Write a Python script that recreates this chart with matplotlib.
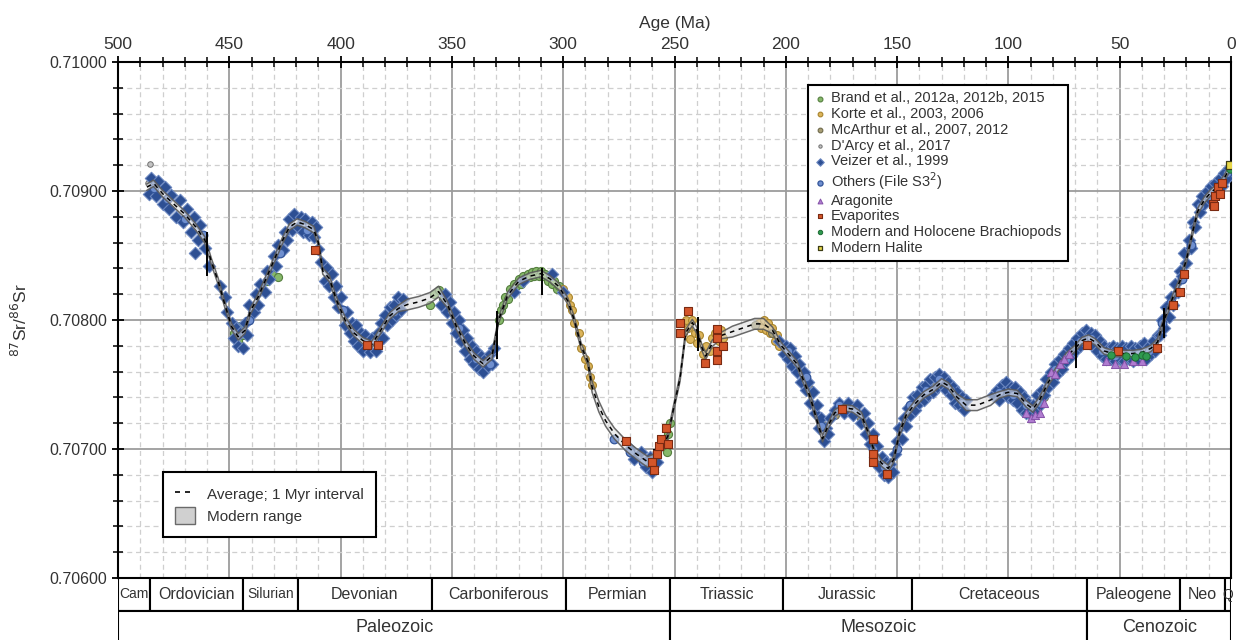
import numpy as np
import matplotlib
matplotlib.use("Agg")
import matplotlib.pyplot as plt
from matplotlib.ticker import MultipleLocator, FormatStrFormatter
from matplotlib.lines import Line2D
from matplotlib.patches import Patch, Rectangle

plt.rcParams['font.family'] = ['Liberation Sans', 'DejaVu Sans']

# LOWESS-style mean curve (age in Ma, 87Sr/86Sr)
curve_age = [487, 484, 480, 475, 470, 465, 461, 458, 455, 452, 449, 446, 443, 440.5, 437, 434, 430,
             426, 423, 419.5, 416, 412, 410, 408, 405, 402, 398, 394, 390, 386, 382, 378, 374, 370,
             365, 360, 356, 352, 348, 344, 340, 336, 332, 329, 325, 320, 315, 310, 306, 302, 298,
             295, 292, 289, 287, 284, 281, 277, 272, 267, 262, 259, 256, 253, 250, 247.5, 245, 242,
             240, 238, 236, 233, 229, 224, 219, 214, 210, 206, 202, 198, 195, 192, 189, 186, 183.5,
             181, 178, 174, 170, 166, 163, 160, 157, 154, 151.5, 149, 146, 142, 138, 134, 130, 127,
             123, 119, 114, 108, 104, 100, 96, 92, 89, 86, 82, 78, 74, 70, 67, 64, 61, 57, 53, 48,
             44, 40, 36, 33, 31, 29, 26, 23, 20, 17, 15, 12, 9, 6, 3, 0.5]
curve_sr = [0.70903, 0.70906, 0.70898, 0.70890, 0.70882, 0.70872, 0.70862, 0.70845, 0.70830,
            0.70812, 0.70795, 0.70787, 0.70792, 0.70807, 0.70818, 0.70830, 0.70846, 0.70862,
            0.70872, 0.70876, 0.70874, 0.70870, 0.70860, 0.70838, 0.70832, 0.70816, 0.70800,
            0.70790, 0.70784, 0.70781, 0.70792, 0.70803, 0.70809, 0.70812, 0.70814, 0.70817,
            0.70822, 0.70812, 0.70795, 0.70782, 0.70772, 0.70766, 0.70772, 0.70800, 0.70819,
            0.70830, 0.70834, 0.70836, 0.70832, 0.70826, 0.70815, 0.70800, 0.70780, 0.70768,
            0.70748, 0.70733, 0.70722, 0.70712, 0.70703, 0.70696, 0.70690, 0.70692, 0.70700,
            0.70710, 0.70735, 0.70755, 0.70790, 0.70798, 0.70792, 0.70780, 0.70772, 0.70782,
            0.70788, 0.70791, 0.70794, 0.70797, 0.70797, 0.70792, 0.70780, 0.70772, 0.70766,
            0.70753, 0.70740, 0.70722, 0.70708, 0.70718, 0.70728, 0.70732, 0.70731, 0.70726,
            0.70713, 0.70697, 0.70689, 0.70685, 0.70692, 0.70712, 0.70726, 0.70735, 0.70742,
            0.70746, 0.70752, 0.70749, 0.70740, 0.70734, 0.70734, 0.70738, 0.70742, 0.70744,
            0.70743, 0.70735, 0.70731, 0.70738, 0.70752, 0.70762, 0.70772, 0.70778, 0.70784,
            0.70786, 0.70783, 0.70776, 0.70774, 0.70774, 0.70774, 0.70775, 0.70778, 0.70783,
            0.70795, 0.70805, 0.70818, 0.70830, 0.70847, 0.70870, 0.70884, 0.70893, 0.70899,
            0.70903, 0.70910, 0.70918]
band_half = 0.000025
gap_half = 0.000042
gap_spans = [(373, 356), (287, 258), (228, 207), (121, 105)]

# segment breaks marked with solid vertical strokes
break_age = [460, 329.7, 309.5, 259, 239.5, 69.6, 30]
break_lo = [0.70834, 0.70770, 0.70819, 0.70680, 0.70776, 0.70763, 0.70786]
break_hi = [0.70868, 0.70807, 0.70840, 0.70700, 0.70802, 0.70784, 0.70809]

brand_age = [448, 446, 445, 444, 433, 431, 428, 360, 358, 356, 354, 329, 328, 327, 326, 325, 324,
             323, 322, 321, 320, 319, 318, 317, 316, 315, 314, 313, 312, 311, 310, 309, 308, 307,
             306, 305, 304, 303, 302, 254, 253, 252, 253.5]
brand_sr = [0.70790, 0.70784, 0.70795, 0.70788, 0.70830, 0.70836, 0.70833, 0.70812, 0.70820,
            0.70823, 0.70816, 0.70800, 0.70808, 0.70812, 0.70818, 0.70816, 0.70824, 0.70822,
            0.70828, 0.70826, 0.70832, 0.70828, 0.70834, 0.70832, 0.70836, 0.70833, 0.70837,
            0.70834, 0.70838, 0.70834, 0.70838, 0.70834, 0.70836, 0.70830, 0.70834, 0.70828,
            0.70830, 0.70824, 0.70826, 0.70705, 0.70712, 0.70720, 0.70698]

korte_age = [300, 298, 297, 296, 295, 293, 292, 290, 289, 288, 287, 246, 245, 244, 243, 242, 241,
             240, 239, 237, 236, 234, 233, 232, 230, 229, 228, 212, 211, 210, 209, 208, 207, 206,
             205, 204, 203]
korte_sr = [0.70824, 0.70818, 0.70812, 0.70808, 0.70798, 0.70790, 0.70778, 0.70770, 0.70764,
            0.70756, 0.70750, 0.70790, 0.70800, 0.70794, 0.70785, 0.70800, 0.70790, 0.70782,
            0.70788, 0.70774, 0.70780, 0.70776, 0.70786, 0.70790, 0.70784, 0.70792, 0.70786,
            0.70798, 0.70794, 0.70800, 0.70792, 0.70798, 0.70790, 0.70794, 0.70784, 0.70788,
            0.70780]

mcarthur_age = [214, 206, 200, 196, 190, 184, 178, 172, 166, 140, 133, 127, 101, 95, 90, 84]
mcarthur_sr = [0.70796, 0.70790, 0.70774, 0.70768, 0.70748, 0.70720, 0.70726, 0.70733, 0.70724,
               0.70738, 0.70750, 0.70748, 0.70744, 0.70740, 0.70732, 0.70740]

darcy_age = [485.5, 486.5]
darcy_sr = [0.70921, 0.70906]

veizer_age = [486, 485, 483, 482, 480, 479, 477, 476, 474, 472, 471, 469, 467, 466, 465.5, 464,
              463, 461, 459, 454, 452, 451, 449, 448, 447, 446, 445, 444, 443, 442, 441, 439, 438,
              437, 436, 434, 433, 432, 430, 429, 428, 426, 425, 424, 423, 422, 421, 419, 418, 417,
              416, 414, 413, 412, 411, 410, 409, 407, 406, 405, 404, 403, 402, 401, 400, 398, 397,
              396, 395, 394, 393, 392, 391, 390, 389, 387, 386, 384, 383, 382, 381, 380, 379, 378,
              377, 376, 375, 374, 373, 372, 355, 353, 352, 351, 350, 349, 348, 347, 346, 345, 344,
              343, 342, 341, 340, 339, 338, 337, 336, 335, 334, 333, 332, 331, 322, 318, 305, 300,
              270, 268, 265, 263, 261, 260, 258, 203, 201, 200, 199, 198, 197, 196, 195, 194, 193,
              192, 191, 190, 189, 188, 187, 186, 185, 184, 183, 182, 181, 180, 178, 176, 174, 172,
              170, 168, 166, 165, 164, 163, 162, 161, 160, 159, 158, 157, 156, 155, 154, 153, 152,
              151, 150, 149, 148, 147, 146, 145, 144, 143, 142, 141, 140, 139, 138, 137, 136, 135,
              134, 133, 132, 131, 130, 129, 128, 127, 126, 125, 124, 123, 122, 121, 120, 119, 107,
              105, 104, 103, 102, 101, 100, 99, 98, 97, 96, 95, 94, 93, 92, 91, 90, 89, 88, 87, 86,
              85, 84, 83, 82, 81, 80, 79, 78, 77, 76, 75, 74, 73, 72, 71, 70, 69, 68, 67, 66, 65,
              64, 63, 62, 61, 60, 59, 58, 57, 56, 55, 54, 53, 52, 51, 50, 49, 48, 47, 46, 45, 44,
              43, 42, 41, 40, 39, 38, 37, 36, 35, 34, 33, 32, 31, 30, 29, 28, 27, 26, 25, 24, 23,
              22, 21, 20, 19, 18, 17, 16, 15, 14, 13, 12, 11, 10, 9, 8, 7, 6, 5, 4, 3, 2, 1]
veizer_sr = [0.70898, 0.70910, 0.70896, 0.70908, 0.70890, 0.70903, 0.70886, 0.70897, 0.70880,
             0.70893, 0.70876, 0.70886, 0.70868, 0.70880, 0.70852, 0.70862, 0.70874, 0.70856,
             0.70842, 0.70826, 0.70818, 0.70806, 0.70798, 0.70786, 0.70794, 0.70780, 0.70790,
             0.70778, 0.70798, 0.70788, 0.70812, 0.70806, 0.70820, 0.70812, 0.70828, 0.70822,
             0.70838, 0.70832, 0.70850, 0.70842, 0.70858, 0.70854, 0.70868, 0.70862, 0.70878,
             0.70870, 0.70882, 0.70872, 0.70880, 0.70868, 0.70878, 0.70866, 0.70876, 0.70864,
             0.70872, 0.70855, 0.70845, 0.70830, 0.70840, 0.70826, 0.70836, 0.70818, 0.70826,
             0.70810, 0.70818, 0.70796, 0.70806, 0.70790, 0.70798, 0.70784, 0.70796, 0.70780,
             0.70790, 0.70776, 0.70788, 0.70775, 0.70786, 0.70776, 0.70790, 0.70798, 0.70786,
             0.70804, 0.70796, 0.70810, 0.70800, 0.70812, 0.70804, 0.70818, 0.70808, 0.70816,
             0.70812, 0.70820, 0.70806, 0.70814, 0.70798, 0.70806, 0.70790, 0.70800, 0.70784,
             0.70792, 0.70776, 0.70786, 0.70770, 0.70780, 0.70766, 0.70776, 0.70762, 0.70772,
             0.70760, 0.70770, 0.70764, 0.70774, 0.70766, 0.70778, 0.70822, 0.70830, 0.70836,
             0.70822, 0.70700, 0.70692, 0.70698, 0.70686, 0.70694, 0.70682, 0.70690, 0.70784,
             0.70774, 0.70780, 0.70770, 0.70778, 0.70764, 0.70772, 0.70760, 0.70766, 0.70752,
             0.70760, 0.70746, 0.70752, 0.70736, 0.70744, 0.70728, 0.70734, 0.70716, 0.70724,
             0.70706, 0.70716, 0.70712, 0.70724, 0.70730, 0.70736, 0.70728, 0.70736, 0.70726,
             0.70734, 0.70720, 0.70728, 0.70712, 0.70720, 0.70704, 0.70712, 0.70694, 0.70702,
             0.70686, 0.70694, 0.70680, 0.70690, 0.70678, 0.70688, 0.70682, 0.70696, 0.70706,
             0.70716, 0.70708, 0.70724, 0.70718, 0.70732, 0.70726, 0.70740, 0.70730, 0.70742,
             0.70736, 0.70748, 0.70738, 0.70750, 0.70742, 0.70754, 0.70744, 0.70756, 0.70748,
             0.70758, 0.70750, 0.70756, 0.70746, 0.70752, 0.70742, 0.70748, 0.70736, 0.70744,
             0.70734, 0.70740, 0.70730, 0.70738, 0.70742, 0.70746, 0.70738, 0.70750, 0.70744,
             0.70752, 0.70740, 0.70748, 0.70738, 0.70748, 0.70736, 0.70744, 0.70730, 0.70740,
             0.70728, 0.70736, 0.70726, 0.70734, 0.70730, 0.70742, 0.70734, 0.70746, 0.70742,
             0.70754, 0.70748, 0.70760, 0.70752, 0.70766, 0.70758, 0.70770, 0.70762, 0.70774,
             0.70768, 0.70778, 0.70772, 0.70782, 0.70776, 0.70786, 0.70780, 0.70790, 0.70784,
             0.70792, 0.70782, 0.70790, 0.70780, 0.70788, 0.70776, 0.70784, 0.70772, 0.70780,
             0.70770, 0.70778, 0.70770, 0.70780, 0.70768, 0.70778, 0.70770, 0.70780, 0.70768,
             0.70778, 0.70770, 0.70780, 0.70768, 0.70778, 0.70770, 0.70780, 0.70772, 0.70782,
             0.70770, 0.70780, 0.70774, 0.70784, 0.70776, 0.70788, 0.70788, 0.70800, 0.70794,
             0.70810, 0.70802, 0.70818, 0.70812, 0.70828, 0.70822, 0.70838, 0.70834, 0.70852,
             0.70844, 0.70862, 0.70856, 0.70876, 0.70872, 0.70890, 0.70884, 0.70896, 0.70890,
             0.70900, 0.70894, 0.70904, 0.70898, 0.70906, 0.70900, 0.70910, 0.70904, 0.70914,
             0.70910, 0.70918]

others_age = [484, 478, 470, 462, 441, 427, 415, 399, 385, 376, 347, 339, 333, 277, 270, 264, 199,
              191, 184, 176, 169, 161, 156, 150, 144, 137, 131, 126, 121, 104, 98, 92, 86, 79, 74,
              68, 63, 58, 52, 46, 42, 37, 31, 27, 22, 18, 14, 10, 6, 2]
others_sr = [0.70902, 0.70894, 0.70878, 0.70866, 0.70800, 0.70852, 0.70870, 0.70808, 0.70784,
             0.70806, 0.70794, 0.70770, 0.70766, 0.70708, 0.70698, 0.70690, 0.70776, 0.70756,
             0.70718, 0.70734, 0.70730, 0.70700, 0.70686, 0.70700, 0.70734, 0.70746, 0.70754,
             0.70746, 0.70736, 0.70744, 0.70742, 0.70734, 0.70736, 0.70762, 0.70770, 0.70784,
             0.70786, 0.70776, 0.70772, 0.70774, 0.70774, 0.70776, 0.70798, 0.70814, 0.70832,
             0.70858, 0.70888, 0.70896, 0.70904, 0.70914]

aragonite_age = [92, 90, 88, 86, 84, 81, 79, 77, 75, 73, 56, 52, 48, 44, 40]
aragonite_sr = [0.70728, 0.70724, 0.70726, 0.70728, 0.70736, 0.70760, 0.70758, 0.70766, 0.70770,
                0.70774, 0.70768, 0.70766, 0.70766, 0.70768, 0.70768]

evaporite_age = [411.5, 388, 383, 272, 260, 258, 257, 256, 254, 253, 259, 247.5, 247.5, 244, 236.3,
                 231, 231, 231, 231, 228.2, 174.8, 160.8, 160.8, 160.8, 154.5, 64.7, 50.8, 33.2,
                 26, 23, 21, 8, 7, 6, 5, 4, 7.5]
evaporite_sr = [0.70854, 0.70781, 0.70781, 0.70706, 0.70690, 0.70696, 0.70702, 0.70708, 0.70716,
                0.70704, 0.70684, 0.70798, 0.70790, 0.70807, 0.70767, 0.70793, 0.70786, 0.70776,
                0.70769, 0.70780, 0.70731, 0.70708, 0.70696, 0.70690, 0.70681, 0.70781, 0.70776,
                0.70778, 0.70812, 0.70822, 0.70836, 0.70890, 0.70896, 0.70903, 0.70898, 0.70906,
                0.70888]

brach_age = [54, 47, 43, 40, 38, 0.5]
brach_sr = [0.70773, 0.70772, 0.70771, 0.70773, 0.70772, 0.70917]

halite_age = [0.3]
halite_sr = [0.70920]

period_bounds = [500, 485.4, 443.8, 419.2, 358.9, 298.9, 251.9, 201.3, 143.5, 64.5, 23.0, 2.6, 0]
period_names = ['Cam', 'Ordovician', 'Silurian', 'Devonian', 'Carboniferous', 'Permian',
                'Triassic', 'Jurassic', 'Cretaceous', 'Paleogene', 'Neo', 'Q']
era_bounds = [500, 251.9, 64.5, 0]
era_names = ['Paleozoic', 'Mesozoic', 'Cenozoic']

W, H = 1236, 640
fig = plt.figure(figsize=(W / 100, H / 100), dpi=100)
ax = fig.add_axes([118 / W, 1 - 578 / H, 1113 / W, 516 / H])
ax.set_xlim(500, 0)
ax.set_ylim(0.706, 0.710)

txt = '#333333'
ax.xaxis.tick_top()
ax.xaxis.set_label_position('top')
ax.set_xticks(np.arange(500, -1, -50))
ax.xaxis.set_minor_locator(MultipleLocator(10))
ax.set_yticks(np.arange(0.706, 0.71001, 0.001))
ax.yaxis.set_minor_locator(MultipleLocator(0.0002))
ax.yaxis.set_major_formatter(FormatStrFormatter('%.5f'))
ax.tick_params(which='major', direction='inout', length=9, width=1.3, labelsize=11.5,
               colors='black', labelcolor=txt, pad=3)
ax.tick_params(which='minor', direction='inout', length=7, width=1.1)
ax.tick_params(axis='x', labelsize=12.5)
ax.tick_params(right=False, bottom=False, which='both')
ax.set_xlabel('Age (Ma)', fontsize=12.5, color=txt, labelpad=6)
ax.set_ylabel(r'$^{87}$Sr/$^{86}$Sr', fontsize=12.5, color=txt, labelpad=14)

ax.grid(which='major', color='#9c9c9c', lw=1.3)
ax.grid(which='minor', color='#cfcfcf', lw=0.9, ls=(0, (4, 3)))
ax.set_axisbelow(True)
for s in ax.spines.values():
    s.set_linewidth(1.5)
    s.set_color('black')

# data clouds
h_brand = ax.scatter(brand_age, brand_sr, s=34, marker='o', fc='#86b86a', ec='#557f3f', lw=0.8, zorder=3)
h_korte = ax.scatter(korte_age, korte_sr, s=32, marker='o', fc='#dcb45a', ec='#a8842c', lw=0.8, zorder=3)
h_mca = ax.scatter(mcarthur_age, mcarthur_sr, s=32, marker='o', fc='#a89e74', ec='#6f6a4c', lw=0.8, zorder=3)
h_darcy = ax.scatter(darcy_age, darcy_sr, s=16, marker='o', fc='#c4c4c4', ec='#707070', lw=0.7, zorder=3)
h_veizer = ax.scatter(veizer_age, veizer_sr, s=40, marker='D', fc='#2d4f93', ec='#6a86bf', lw=0.8, zorder=3)
h_others = ax.scatter(others_age, others_sr, s=38, marker='o', fc='#6f8fcf', ec='#33559a', lw=0.9, zorder=3)

# mean curve envelope and average line
cage = np.array(curve_age)
csr = np.array(curve_sr)
half = np.full(cage.shape, band_half)
for a0, a1 in gap_spans:
    half[(cage <= a0) & (cage >= a1)] = gap_half
ax.fill_between(cage, csr - half, csr + half, fc='#dedede', alpha=0.55, ec='none', zorder=4)
ax.plot(cage, csr - half, color='#5a5a5a', lw=1.1, alpha=0.9, zorder=4)
ax.plot(cage, csr + half, color='#5a5a5a', lw=1.1, alpha=0.9, zorder=4)
ax.plot(cage, csr, color='black', lw=1.1, ls=(0, (3, 3)), zorder=5)
ax.vlines(break_age, break_lo, break_hi, color='black', lw=1.4, zorder=5)

h_arag = ax.scatter(aragonite_age, aragonite_sr, s=34, marker='^', fc='#b07cd0', ec='#8552a8', lw=0.7, zorder=6)
h_evap = ax.scatter(evaporite_age, evaporite_sr, s=26, marker='s', fc='#d4562a', ec='#7a2a12', lw=0.8, zorder=6)
h_brach = ax.scatter(brach_age, brach_sr, s=28, marker='o', fc='#2f9a4f', ec='#1d6a33', lw=0.7, zorder=6)
h_halite = ax.scatter(halite_age, halite_sr, s=26, marker='s', fc='#e8d84a', ec='#3c3c14', lw=0.9, zorder=6)

src_handles = [h_brand, h_korte, h_mca, h_darcy, h_veizer, h_others, h_arag, h_evap, h_brach, h_halite]
src_labels = ['Brand et al., 2012a, 2012b, 2015', 'Korte et al., 2003, 2006',
              'McArthur et al., 2007, 2012', "D'Arcy et al., 2017", 'Veizer et al., 1999',
              r'Others (File S3$^{2}$)', 'Aragonite', 'Evaporites',
              'Modern and Holocene Brachiopods', 'Modern Halite']
leg1 = ax.legend(src_handles, src_labels, loc='upper left', bbox_to_anchor=(0.613, 0.97),
                 fontsize=10.5, frameon=True, fancybox=False, framealpha=1, edgecolor='black',
                 handlelength=0.8, handletextpad=0.35, labelspacing=0.12, borderpad=0.45,
                 markerscale=0.6, labelcolor=txt)
leg1.get_frame().set_linewidth(1.5)
leg1.set_zorder(10)
ax.add_artist(leg1)

avg_handles = [Line2D([], [], color='black', lw=1.2, ls=(0, (3, 3))),
               Patch(fc='#d0d0d0', ec='#6a6a6a', lw=1.0)]
leg2 = ax.legend(avg_handles, ['Average; 1 Myr interval', 'Modern range'], loc='lower left',
                 bbox_to_anchor=(0.04, 0.08), fontsize=11, frameon=True, fancybox=False,
                 framealpha=1, edgecolor='black', handlelength=1.3, handleheight=1.4,
                 handletextpad=0.8, labelspacing=0.3, borderpad=0.8, borderaxespad=0,
                 labelcolor=txt)
leg2.get_frame().set_linewidth(1.5)
leg2.set_zorder(10)

# geologic time scale under the plot
ts = fig.add_axes([118 / W, 1 - 644 / H, 1113 / W, 66 / H])
ts.set_xlim(500, 0)
ts.set_ylim(0, 2)
ts.axis('off')
for i, name in enumerate(period_names):
    a0, a1 = period_bounds[i], period_bounds[i + 1]
    ts.add_patch(Rectangle((a1, 1), a0 - a1, 1, fc='white', ec='black', lw=1.5))
    fs = 10 if name in ('Cam', 'Silurian', 'Q') else 11.5
    ts.text((a0 + a1) / 2, 1.5, name, ha='center', va='center', fontsize=fs, color=txt)
for i, name in enumerate(era_names):
    a0, a1 = era_bounds[i], era_bounds[i + 1]
    ts.add_patch(Rectangle((a1, 0), a0 - a1, 1, fc='white', ec='black', lw=1.5))
    ts.text((a0 + a1) / 2, 0.5, name, ha='center', va='center', fontsize=13, color=txt)

fig.savefig('out.png', dpi=100)
